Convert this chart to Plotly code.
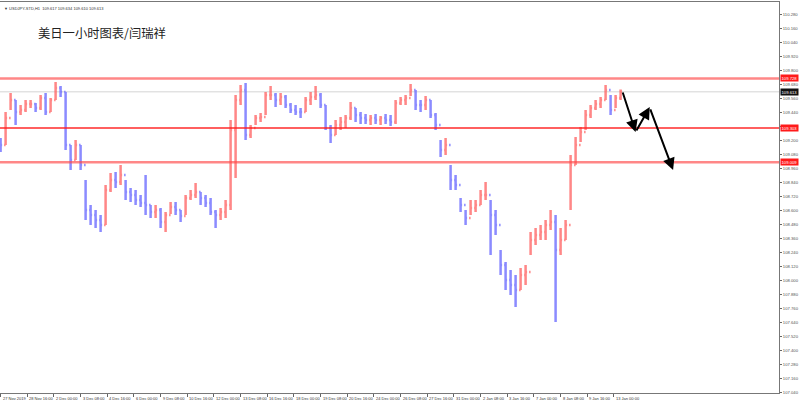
import plotly.graph_objects as go

# ---------------- data (USDJPY H1, sampled every 6 bars) ----------------
sample_step = 6  # hours between sampled bars
first_open = 109.200
highs = [109.217, 109.440, 109.603, 109.543, 109.500, 109.543, 109.543, 109.517, 109.586, 109.603,
         109.560, 109.697, 109.663, 109.612, 109.157, 109.200, 109.157, 108.858, 108.643, 108.601,
         108.558, 108.815, 108.918, 108.926, 108.986, 108.858, 108.789, 108.772, 108.729, 108.900,
         108.643, 108.643, 108.618, 108.583, 108.669, 108.669, 108.601, 108.729, 108.772, 108.832,
         108.755, 108.729, 108.703, 108.601, 108.618, 108.686, 109.372, 109.586, 109.672, 109.689,
         109.329, 109.415, 109.432, 109.612, 109.663, 109.603, 109.603, 109.586, 109.517, 109.500,
         109.475, 109.569, 109.612, 109.663, 109.603, 109.500, 109.329, 109.372, 109.397, 109.415,
         109.526, 109.475, 109.440, 109.423, 109.415, 109.423, 109.406, 109.423, 109.415, 109.543,
         109.569, 109.586, 109.680, 109.629, 109.543, 109.577, 109.543, 109.432, 109.200, 109.217,
         108.986, 108.900, 108.703, 108.601, 108.686, 108.686, 108.772, 108.840, 108.686, 108.601,
         108.258, 108.155, 108.086, 108.044, 108.103, 108.129, 108.412, 108.446, 108.472, 108.515,
         108.601, 108.558, 108.446, 108.515, 109.072, 109.226, 109.312, 109.457, 109.500, 109.543,
         109.569, 109.672, 109.586, 109.586, 109.634]
lows = [109.097, 109.157, 109.457, 109.329, 109.415, 109.440, 109.475, 109.440, 109.457, 109.415,
        109.440, 109.543, 109.569, 109.115, 108.943, 109.029, 108.943, 108.515, 108.472, 108.446,
        108.412, 108.472, 108.755, 108.789, 108.815, 108.686, 108.669, 108.643, 108.626, 108.558,
        108.532, 108.532, 108.446, 108.412, 108.566, 108.558, 108.498, 108.558, 108.686, 108.703,
        108.643, 108.626, 108.558, 108.446, 108.515, 108.532, 108.601, 108.875, 109.500, 109.200,
        109.217, 109.329, 109.355, 109.415, 109.543, 109.483, 109.500, 109.475, 109.432, 109.415,
        109.389, 109.440, 109.500, 109.543, 109.475, 109.286, 109.175, 109.243, 109.286, 109.303,
        109.372, 109.355, 109.337, 109.337, 109.329, 109.337, 109.329, 109.337, 109.320, 109.337,
        109.500, 109.500, 109.577, 109.457, 109.440, 109.457, 109.389, 109.286, 109.055, 109.072,
        108.772, 108.772, 108.583, 108.472, 108.558, 108.583, 108.643, 108.686, 108.215, 108.386,
        108.044, 107.915, 107.872, 107.769, 107.915, 107.958, 108.215, 108.301, 108.343, 108.343,
        108.429, 107.641, 108.215, 108.343, 108.601, 108.986, 109.183, 109.286, 109.389, 109.457,
        109.475, 109.543, 109.415, 109.475, 109.543]
closes = [109.157, 109.389, 109.543, 109.440, 109.457, 109.509, 109.509, 109.475, 109.560, 109.440,
          109.543, 109.646, 109.612, 109.157, 109.029, 109.157, 108.986, 108.601, 108.558, 108.515,
          108.472, 108.772, 108.858, 108.840, 108.900, 108.755, 108.729, 108.686, 108.661, 108.643,
          108.583, 108.601, 108.498, 108.558, 108.626, 108.601, 108.549, 108.703, 108.729, 108.755,
          108.703, 108.661, 108.583, 108.558, 108.583, 108.643, 109.286, 109.543, 109.629, 109.243,
          109.303, 109.389, 109.397, 109.586, 109.586, 109.543, 109.569, 109.500, 109.457, 109.440,
          109.440, 109.543, 109.569, 109.586, 109.500, 109.303, 109.243, 109.329, 109.355, 109.389,
          109.475, 109.415, 109.389, 109.372, 109.389, 109.372, 109.389, 109.372, 109.355, 109.517,
          109.543, 109.560, 109.629, 109.500, 109.500, 109.543, 109.415, 109.329, 109.115, 109.157,
          108.858, 108.815, 108.643, 108.532, 108.618, 108.643, 108.729, 108.729, 108.558, 108.472,
          108.129, 108.001, 107.958, 107.915, 108.044, 108.068, 108.343, 108.386, 108.412, 108.472,
          108.498, 108.258, 108.343, 108.472, 108.986, 109.157, 109.269, 109.415, 109.475, 109.509,
          109.543, 109.629, 109.457, 109.560, 109.613]

# x-axis labels (one every 32 hourly bars)
label_step = 32
date_labels = ["27 Nov 2019", "28 Nov 16:00", "2 Dec 00:00", "3 Dec 08:00", "4 Dec 16:00",
               "6 Dec 00:00", "9 Dec 08:00", "10 Dec 16:00", "12 Dec 00:00", "13 Dec 08:00",
               "16 Dec 16:00", "18 Dec 00:00", "19 Dec 08:00", "20 Dec 16:00", "24 Dec 00:00",
               "26 Dec 08:00", "27 Dec 16:00", "31 Dec 00:00", "2 Jan 08:00", "3 Jan 16:00",
               "7 Jan 00:00", "8 Jan 08:00", "9 Jan 16:00", "13 Jan 00:00"]

# horizontal levels
level_prices = [109.728, 109.303, 109.009]
level_colors = ["rgba(255,70,70,0.65)", "rgba(255,30,30,0.95)", "rgba(255,70,70,0.65)"]
level_widths = [2.5, 1.5, 2.5]
bid_price = 109.613

# forecast arrows (bar index, price)
arrow_start_bar = [746, 762, 779]
arrow_start_price = [109.620, 109.269, 109.475]
arrow_end_bar = [762, 779, 807]
arrow_end_price = [109.269, 109.483, 108.943]

title_text = "美日一小时图表/闫瑞祥"
header_text = "▼ USDJPY-STD,H1  109.617 109.634 109.610 109.613"

# ---------------- figure ----------------
x_bars = [k * sample_step for k in range(len(closes))]
opens = [first_open] + closes[:-1]

fig = go.Figure()
fig.add_trace(go.Ohlc(
    x=x_bars, open=opens, high=highs, low=lows, close=closes,
    increasing=dict(line=dict(color="rgba(255,95,95,0.75)", width=2.5)),
    decreasing=dict(line=dict(color="rgba(100,100,255,0.75)", width=2.5)),
    tickwidth=0.3, hoverinfo="skip", showlegend=False,
))

shapes = []
shapes.append(dict(type="line", xref="paper", x0=0, x1=1, yref="y", y0=bid_price, y1=bid_price,
                   line=dict(color="#d4d4d4", width=1), layer="below"))
for p, c, w in zip(level_prices, level_colors, level_widths):
    shapes.append(dict(type="line", xref="paper", x0=0, x1=1, yref="y", y0=p, y1=p,
                       line=dict(color=c, width=w), layer="above"))

annotations = []
# date labels
for i, lab in enumerate(date_labels):
    annotations.append(dict(x=i * label_step, xref="x", y=0, yref="paper", text=lab,
                            showarrow=False, xanchor="left", yanchor="top", xshift=0, yshift=-1,
                            font=dict(size=4, color="#333", family="Liberation Sans")))
# level price tags
for p in level_prices:
    annotations.append(dict(x=1, xref="paper", y=p, yref="y", text=f"{p:.3f}", showarrow=False,
                            xanchor="left", yanchor="middle", xshift=1, bgcolor="#ff1a1a",
                            borderpad=0.5, font=dict(size=4.2, color="white", family="Liberation Sans")))
annotations.append(dict(x=1, xref="paper", y=bid_price, yref="y", text=f"{bid_price:.3f}",
                        showarrow=False, xanchor="left", yanchor="middle", xshift=1, bgcolor="#111",
                        borderpad=0.5, font=dict(size=4.2, color="white", family="Liberation Sans")))
# arrows
for sb, sp, eb, ep in zip(arrow_start_bar, arrow_start_price, arrow_end_bar, arrow_end_price):
    annotations.append(dict(x=eb, y=ep, xref="x", yref="y", ax=sb, ay=sp, axref="x", ayref="y",
                            text="", showarrow=True, arrowhead=2, arrowsize=1.2, arrowwidth=2,
                            arrowcolor="black"))
# title and header
annotations.append(dict(x=0.046, xref="paper", y=0.921, yref="paper", text=title_text,
                        showarrow=False, xanchor="left", yanchor="middle",
                        font=dict(size=12.3, color="#222", family="Noto Sans CJK SC")))
annotations.append(dict(x=0.002, xref="paper", y=0.995, yref="paper", text=header_text,
                        showarrow=False, xanchor="left", yanchor="top",
                        font=dict(size=4, color="#333", family="Liberation Sans")))

fig.update_layout(
    template="none",
    width=800, height=402,
    margin=dict(l=0, r=21, t=2, b=9, autoexpand=False),
    paper_bgcolor="white", plot_bgcolor="white",
    shapes=shapes, annotations=annotations,
    xaxis=dict(range=[-0.72, 934.1], showgrid=False, zeroline=False, rangeslider=dict(visible=False),
               tickvals=[i * label_step for i in range(len(date_labels))], showticklabels=False,
               ticks="outside", ticklen=3, tickcolor="#666", automargin=False,
               showline=True, linecolor="#777", linewidth=1, mirror=True),
    yaxis=dict(side="right", range=[107.032, 110.383], showgrid=False, zeroline=False,
               tick0=107.04, dtick=0.12, tickformat=".3f", ticks="outside", ticklen=2,
               tickcolor="#666", tickfont=dict(size=4.2, color="#555", family="Liberation Sans"),
               automargin=False, showline=True, linecolor="#777", linewidth=1),
)

fig.write_html("out.html", config={"displayModeBar": False},
               post_script="document.body.style.margin='0';document.body.style.overflow='hidden';")
